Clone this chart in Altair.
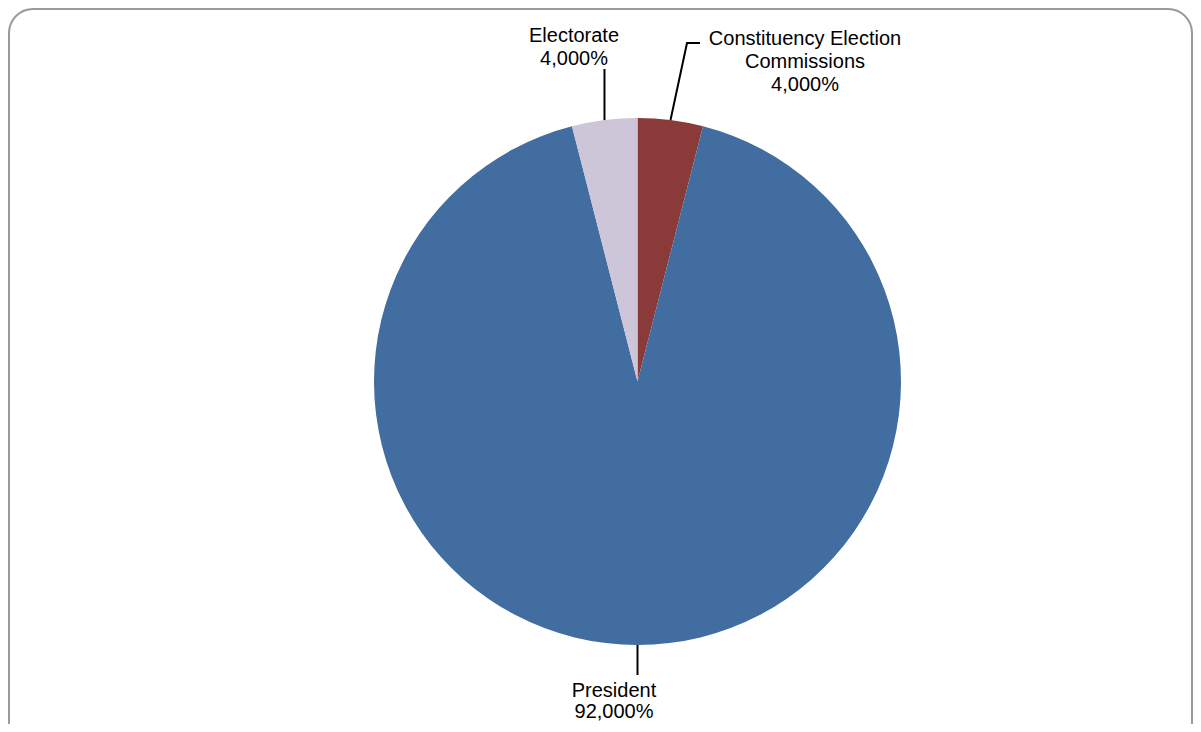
import altair as alt
import pandas as pd
import numpy as np

# ---- data ----
categories = ["Constituency Election Commissions", "President", "Electorate"]
label_names = ["Constituency Election\nCommissions", "President", "Electorate"]
values = [4.0, 92.0, 4.0]
colors = ["#8B3A3A", "#426DA0", "#CCC6D8"]

# ---- layout (pixels in chart space) ----
W, H = 1185, 716
CX, CY, R = 629.5, 373.5, 263.5
FONT = "Liberation Sans"
# leader-line elbow / end points and label anchors, per slice
leader_mid = {"Constituency Election Commissions": (679, 35), "President": None, "Electorate": None}
leader_end = {"Constituency Election Commissions": (692, 35), "President": (629.5, 667), "Electorate": (596, 61)}
label_pos = {"Constituency Election Commissions": (797, 37), "President": (606, 689), "Electorate": (566, 34)}
line_height = {"Constituency Election Commissions": 23, "President": 21, "Electorate": 23}

def fmt(v):
    return f"{v:.3f}".replace(".", ",") + "%"

pie_df = pd.DataFrame({"category": categories, "value": values, "order": range(len(values))})

# anchor points on the pie edge from slice mid-angles
total = sum(values)
cum = np.cumsum([0] + values[:-1])
mids = [(c + v / 2) / total * 2 * np.pi for c, v in zip(cum, values)]

line_rows, text_rows = [], []
for cat, lab, v, a in zip(categories, label_names, values, mids):
    ax_, ay_ = CX + R * np.sin(a), CY - R * np.cos(a)
    pts = [(ax_, ay_)]
    if leader_mid[cat] is not None:
        pts.append(leader_mid[cat])
    end = leader_end[cat]
    if cat == "Electorate":
        end = (ax_, end[1])
    pts.append(end)
    for i, (px, py) in enumerate(pts):
        line_rows.append({"cat": cat, "i": i, "x": px, "y": py})
    lx, ly = label_pos[cat]
    lines_txt = (lab + "\n" + fmt(v)).split("\n")
    for j, t in enumerate(lines_txt):
        text_rows.append({"cat": cat, "x": lx, "y": ly + j * line_height[cat], "text": t})

line_df = pd.DataFrame(line_rows)
text_df = pd.DataFrame(text_rows)

xs = alt.Scale(domain=[0, W], range=[0, W], nice=False, zero=False)
ys = alt.Scale(domain=[0, H], range=[0, H], nice=False, zero=False)

border = alt.Chart(pd.DataFrame({"a": [0]})).mark_rect(
    fill=None, stroke="#9A9A9A", strokeWidth=2, cornerRadius=24
).encode(x=alt.value(1), x2=alt.value(W - 1), y=alt.value(1), y2=alt.value(H + 30))

pie = alt.Chart(pie_df).mark_arc(radius=R).encode(
    theta=alt.Theta("value:Q", stack=True),
    order=alt.Order("order:Q"),
    color=alt.Color("category:N", scale=alt.Scale(domain=categories, range=colors), legend=None),
    x=alt.value(CX),
    y=alt.value(CY),
)

lines = alt.Chart(line_df).mark_line(color="black", strokeWidth=2).encode(
    x=alt.X("x:Q", scale=xs, axis=None),
    y=alt.Y("y:Q", scale=ys, axis=None),
    detail="cat:N",
    order="i:Q",
)

texts = alt.Chart(text_df).mark_text(
    font=FONT, fontSize=20, color="black", align="center", baseline="alphabetic"
).encode(
    x=alt.X("x:Q", scale=xs, axis=None),
    y=alt.Y("y:Q", scale=ys, axis=None),
    text="text:N",
)

chart = alt.layer(border, pie, lines, texts).properties(
    width=W, height=H, autosize=alt.AutoSizeParams(type="none"), padding=0
).configure_view(stroke=None).resolve_scale(color="independent")

chart.save("out.html", embed_options={"renderer": "svg", "actions": False})
